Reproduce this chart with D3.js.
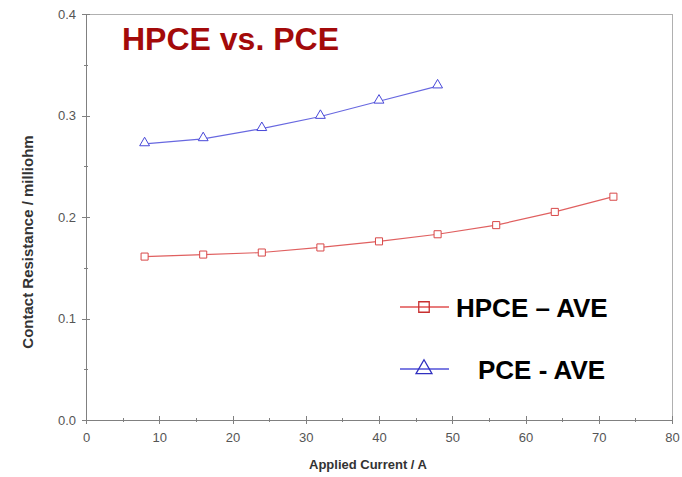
<!DOCTYPE html>
<html lang="en">
  <head>
    <meta charset="UTF-8" />
    <title>HPCE vs. PCE</title>
    <script src="https://d3js.org/d3.v7.min.js"></script>
    <style>
      body { margin: 0; background: #fff; font-family: Arial, "Liberation Sans", sans-serif; }
      .axis path, .axis line { stroke: #808080; shape-rendering: crispEdges; }
      .axis text { fill: #555; font-size: 13px; font-family: Arial, "Liberation Sans", sans-serif; }
    </style>
  </head>
  <body>
    <script>
      // data
      var currents = [8, 16, 24, 32, 40, 48, 56, 64, 72];
      var hpce = [0.161, 0.163, 0.165, 0.170, 0.176, 0.183, 0.192, 0.205, 0.220];
      var pceCurrents = [8, 16, 24, 32, 40, 48];
      var pce = [0.272, 0.277, 0.287, 0.299, 0.314, 0.329];
      var xTicks = [0, 10, 20, 30, 40, 50, 60, 70, 80];
      var yTicks = [0.0, 0.1, 0.2, 0.3, 0.4];

      var width = 682, height = 477;
      var margin = { left: 86, right: 672, top: 14, bottom: 420 };

      var svg = d3.select("body").append("svg")
        .attr("width", width)
        .attr("height", height);

      var x = d3.scaleLinear().domain([0, 80]).range([margin.left, margin.right]);
      var y = d3.scaleLinear().domain([0, 0.4]).range([margin.bottom, margin.top]);

      // frame (top and right)
      svg.append("path")
        .attr("d", "M" + margin.left + "," + margin.top + "H" + margin.right + "V" + margin.bottom)
        .attr("fill", "none")
        .attr("stroke", "#b0b0b0")
        .attr("shape-rendering", "crispEdges");

      // x axis: minor then major ticks
      var gx = svg.append("g").attr("class", "axis")
        .attr("transform", "translate(0," + margin.bottom + ")")
        .call(d3.axisBottom(x).tickValues(d3.range(5, 80, 10)).tickSize(2).tickFormat(""));
      gx.selectAll(".tick line").attr("y1", -2);
      var gxm = svg.append("g").attr("class", "axis")
        .attr("transform", "translate(0," + margin.bottom + ")")
        .call(d3.axisBottom(x).tickValues(xTicks).tickSize(4).tickPadding(9).tickFormat(d3.format("d")));
      gxm.selectAll(".tick line").attr("y1", -4);

      // y axis
      var gy = svg.append("g").attr("class", "axis")
        .attr("transform", "translate(" + margin.left + ",0)")
        .call(d3.axisLeft(y).tickValues([0.05, 0.15, 0.25, 0.35]).tickSize(2).tickFormat(""));
      gy.selectAll(".tick line").attr("x1", 2);
      var gym = svg.append("g").attr("class", "axis")
        .attr("transform", "translate(" + margin.left + ",0)")
        .call(d3.axisLeft(y).tickValues(yTicks).tickSize(4).tickPadding(6).tickFormat(d3.format(".1f")));
      gym.selectAll(".tick line").attr("x1", 4);

      // axis titles
      svg.append("text")
        .attr("x", 368)
        .attr("y", 469)
        .attr("text-anchor", "middle")
        .style("font-size", "13px")
        .style("font-weight", "bold")
        .style("fill", "#333")
        .text("Applied Current / A");

      svg.append("text")
        .attr("transform", "translate(33,242) rotate(-90)")
        .attr("text-anchor", "middle")
        .style("font-size", "15px")
        .style("font-weight", "bold")
        .style("fill", "#333")
        .text("Contact Resistance / milliohm");

      // chart title
      svg.append("text")
        .attr("x", 122)
        .attr("y", 50)
        .style("font-size", "32px")
        .style("font-weight", "bold")
        .style("fill", "#a30a0a")
        .text("HPCE vs. PCE");

      var line = d3.line().x(function (d) { return x(d[0]); }).y(function (d) { return y(d[1]); });

      var redPts = currents.map(function (c, i) { return [c, hpce[i]]; });
      var bluePts = pceCurrents.map(function (c, i) { return [c, pce[i]]; });

      svg.append("path").datum(redPts)
        .attr("d", line).attr("fill", "none")
        .attr("stroke", "#e06060").attr("stroke-width", 1.2);
      svg.append("path").datum(bluePts)
        .attr("d", line).attr("fill", "none")
        .attr("stroke", "#6868e0").attr("stroke-width", 1.2);

      var sq = d3.symbol().type(d3.symbolSquare).size(50);
      var tri = d3.symbol().type(d3.symbolTriangle).size(42);

      svg.selectAll(".sq").data(redPts).enter().append("path")
        .attr("class", "sq")
        .attr("transform", function (d) { return "translate(" + x(d[0]) + "," + y(d[1]) + ")"; })
        .attr("d", sq).attr("fill", "#fff")
        .attr("stroke", "#d84848").attr("stroke-width", 1);
      svg.selectAll(".tri").data(bluePts).enter().append("path")
        .attr("class", "tri")
        .attr("transform", function (d) { return "translate(" + x(d[0]) + "," + (y(d[1]) - 1) + ")"; })
        .attr("d", tri).attr("fill", "#fff")
        .attr("stroke", "#4848d8").attr("stroke-width", 1);

      // legend
      var legend = [
        { label: "HPCE \u2013 AVE", color: "#e05050", mark: "#c83030", type: d3.symbolSquare, y: 307, tx: 456 },
        { label: "PCE - AVE", color: "#5050d8", mark: "#3030c0", type: d3.symbolTriangle, y: 369, tx: 478 }
      ];
      var lg = svg.selectAll(".legend").data(legend).enter().append("g");
      lg.append("line")
        .attr("x1", 400).attr("x2", 449)
        .attr("y1", function (d) { return d.y; }).attr("y2", function (d) { return d.y; })
        .attr("stroke", function (d) { return d.color; }).attr("stroke-width", 1.5);
      lg.append("path")
        .attr("transform", function (d) { return "translate(424," + d.y + ")"; })
        .attr("d", function (d) { return d3.symbol().type(d.type).size(110)(); })
        .attr("fill", "none")
        .attr("stroke", function (d) { return d.mark; }).attr("stroke-width", 1.3);
      lg.append("text")
        .attr("x", function (d) { return d.tx; })
        .attr("y", function (d) { return d.y + 10; })
        .style("font-size", "26px")
        .style("font-weight", "bold")
        .style("fill", "#000")
        .text(function (d) { return d.label; });
    </script>
  </body>
</html>
